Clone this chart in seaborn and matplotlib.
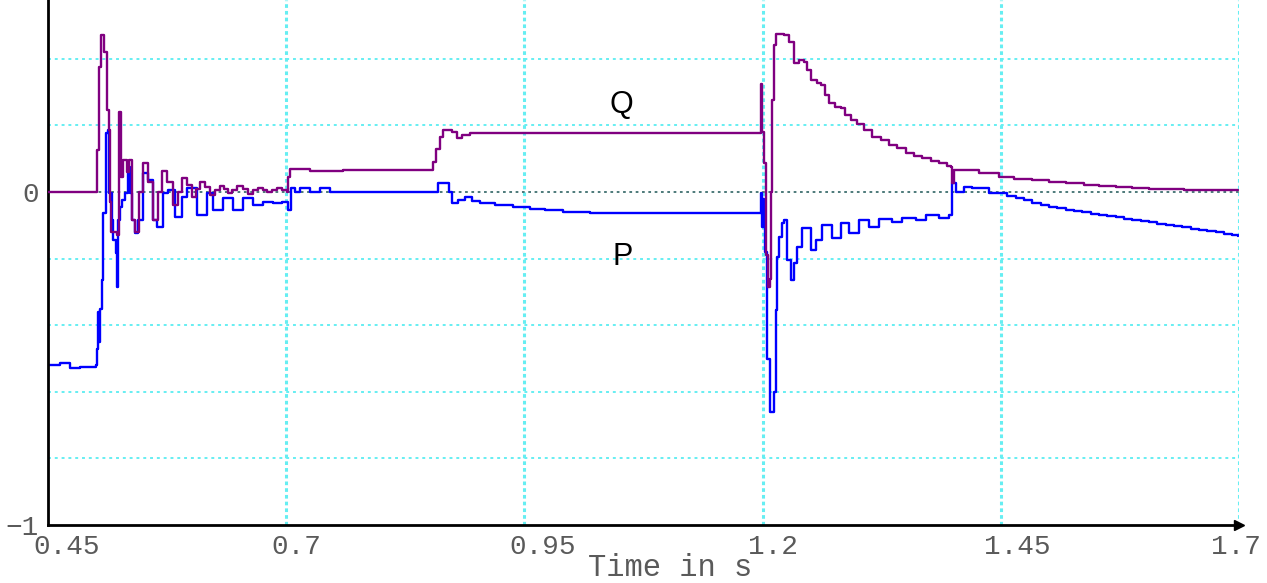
import numpy as np
import pandas as pd
import matplotlib
matplotlib.use("Agg")
import matplotlib.pyplot as plt
import seaborn as sns
from matplotlib.transforms import ScaledTranslation

# ---- data (time in s, per-unit values) ----
q_time = [0.450, 0.5003, 0.5014, 0.5035, 0.5056, 0.5087, 0.5119, 0.5140, 0.5150, 0.5161,
          0.5224, 0.5245, 0.5266, 0.5287, 0.5328, 0.5349, 0.5381, 0.5412, 0.5454, 0.5496,
          0.5549, 0.5601, 0.5654, 0.5696, 0.5748, 0.5811, 0.5863, 0.5905, 0.5958, 0.6010,
          0.6052, 0.6094, 0.6146, 0.6199, 0.6251, 0.6304, 0.6346, 0.6388, 0.6430, 0.6482,
          0.6545, 0.6597, 0.6650, 0.6702, 0.6755, 0.6797, 0.6849, 0.6902, 0.6954, 0.7006,
          0.7020, 0.7040, 0.7250, 0.7600, 0.8506, 0.8540, 0.8570, 0.8610, 0.8650, 0.8740,
          0.8790, 0.8850, 0.8930, 1.1967, 1.1988, 1.1998, 1.2019, 1.2040, 1.2061, 1.2082,
          1.2093, 1.2103, 1.2124, 1.2145, 1.2229, 1.2281, 1.2334, 1.2386, 1.2439, 1.2470,
          1.2512, 1.2575, 1.2617, 1.2659, 1.2701, 1.2764, 1.2827, 1.2869, 1.2932, 1.2995,
          1.3068, 1.3152, 1.3246, 1.3330, 1.3414, 1.3508, 1.3592, 1.3676, 1.3770, 1.3854,
          1.3938, 1.3980, 1.3991, 1.4012, 1.4138, 1.4274, 1.4484, 1.4641, 1.4830, 1.5008,
          1.5186, 1.5375, 1.5532, 1.5711, 1.5878, 1.6057, 1.6235, 1.6424, 1.6581, 1.6790,
          1.6990]
q_value = [0.000, 0.000, 0.125, 0.375, 0.471, 0.420, 0.245, 0.185, -0.030, -0.120,
           -0.130, 0.240, 0.045, 0.095, 0.060, 0.095, -0.085, -0.120, 0.000, 0.087,
           0.030, -0.084, 0.000, 0.063, 0.030, -0.040, 0.000, 0.042, 0.020, -0.015,
           0.010, 0.030, 0.015, -0.010, 0.005, 0.018, 0.010, -0.003, 0.005, 0.018,
           0.008, -0.006, 0.005, 0.012, 0.005, 0.000, 0.006, 0.012, 0.006, 0.000,
           0.045, 0.068, 0.064, 0.066, 0.066, 0.090, 0.130, 0.165, 0.186, 0.180,
           0.162, 0.172, 0.177, 0.177, 0.325, 0.180, 0.087, -0.190, -0.285, -0.260,
           0.000, 0.275, 0.440, 0.475, 0.470, 0.450, 0.387, 0.396, 0.390, 0.366,
           0.336, 0.327, 0.321, 0.291, 0.267, 0.255, 0.252, 0.231, 0.216, 0.204,
           0.186, 0.165, 0.156, 0.141, 0.132, 0.117, 0.108, 0.102, 0.093, 0.087,
           0.078, 0.075, 0.027, 0.065, 0.066, 0.057, 0.045, 0.039, 0.036, 0.030,
           0.027, 0.021, 0.018, 0.015, 0.012, 0.0105, 0.009, 0.0075, 0.006, 0.006,
           0.006]

p_time = [0.450, 0.4626, 0.4731, 0.4836, 0.4940, 0.5003, 0.5014, 0.5024, 0.5035, 0.5045,
          0.5066, 0.5077, 0.5108, 0.5129, 0.5140, 0.5171, 0.5182, 0.5213, 0.5224, 0.5234,
          0.5255, 0.5276, 0.5308, 0.5339, 0.5360, 0.5381, 0.5412, 0.5444, 0.5496, 0.5549,
          0.5601, 0.5643, 0.5706, 0.5758, 0.5832, 0.5905, 0.5958, 0.6063, 0.6167, 0.6230,
          0.6335, 0.6440, 0.6545, 0.6650, 0.6755, 0.6860, 0.6954, 0.7017, 0.7048, 0.7090,
          0.7143, 0.7248, 0.7352, 0.7457, 0.8558, 0.8590, 0.8663, 0.8705, 0.8737, 0.8800,
          0.8873, 0.8946, 0.9030, 0.9188, 0.9377, 0.9555, 0.9712, 0.9901, 1.0184, 1.1977,
          1.1988, 1.1998, 1.2009, 1.2019, 1.2030, 1.2051, 1.2082, 1.2124, 1.2145, 1.2155,
          1.2176, 1.2208, 1.2229, 1.2260, 1.2302, 1.2334, 1.2365, 1.2418, 1.2512, 1.2565,
          1.2628, 1.2732, 1.2827, 1.2911, 1.3016, 1.3120, 1.3225, 1.3361, 1.3466, 1.3613,
          1.3718, 1.3854, 1.3959, 1.3991, 1.4033, 1.4117, 1.4201, 1.4379, 1.4484, 1.4568,
          1.4662, 1.4746, 1.4830, 1.4924, 1.5008, 1.5092, 1.5186, 1.5270, 1.5354, 1.5449,
          1.5532, 1.5616, 1.5711, 1.5795, 1.5878, 1.5973, 1.6057, 1.6141, 1.6235, 1.6319,
          1.6403, 1.6497, 1.6581, 1.6665, 1.6760, 1.6844, 1.6927, 1.6990]
p_value = [-0.520, -0.515, -0.530, -0.525, -0.525, -0.520, -0.470, -0.360, -0.450, -0.350,
           -0.264, -0.063, 0.177, 0.186, -0.003, -0.084, -0.144, -0.183, -0.285, -0.084,
           -0.045, -0.024, -0.003, 0.075, -0.003, -0.084, -0.123, -0.084, 0.057, 0.036,
           -0.084, -0.105, -0.003, 0.006, -0.075, -0.015, 0.012, -0.069, -0.003, -0.054,
           -0.018, -0.054, -0.018, -0.039, -0.030, -0.033, -0.030, -0.054, 0.012, 0.000,
           0.012, 0.000, 0.012, 0.000, 0.000, 0.027, 0.027, 0.000, -0.033, -0.024,
           -0.015, -0.027, -0.033, -0.039, -0.045, -0.051, -0.054, -0.060, -0.063, -0.063,
           -0.003, -0.105, -0.020, -0.105, -0.180, -0.500, -0.660, -0.600, -0.355, -0.195,
           -0.135, -0.093, -0.084, -0.204, -0.264, -0.213, -0.165, -0.108, -0.174, -0.144,
           -0.099, -0.138, -0.093, -0.123, -0.084, -0.105, -0.081, -0.090, -0.078, -0.084,
           -0.069, -0.078, -0.069, 0.027, 0.000, 0.015, 0.012, -0.003, -0.003, -0.012,
           -0.018, -0.024, -0.033, -0.039, -0.045, -0.048, -0.054, -0.057, -0.060, -0.066,
           -0.069, -0.072, -0.075, -0.081, -0.084, -0.087, -0.090, -0.096, -0.099, -0.102,
           -0.105, -0.111, -0.114, -0.117, -0.120, -0.126, -0.129, -0.131]

x_ticks = [0.45, 0.7, 0.95, 1.2, 1.45, 1.7]
x_tick_labels = ["0.45", "0.7", "0.95", "1.2", "1.45", "1.7"]
y_ticks = [-1.0, -0.8, -0.6, -0.4, -0.2, 0.0, 0.2, 0.4]
y_tick_labels = ["\u22121", "", "", "", "", "0", "", ""]
series_labels = ["Q", "P"]
x_label = "Time in s"

# ---- style ----
sns.set_style("white")
plt.rcParams['font.family'] = ['Liberation Mono', 'DejaVu Sans Mono']

W, H = 1267, 583
fig = plt.figure(figsize=(W / 100, H / 100), dpi=100)
ax = fig.add_axes([48 / W, 58 / H, 1191 / W, 525 / H])

grid_col = "#66EEF2"
for xt in x_ticks[1:]:
    ax.axvline(xt, color=grid_col, lw=2.2, ls=(0, (1.2, 1.0)), zorder=0)
for yt in y_ticks[1:]:
    if yt != 0.0:
        ax.axhline(yt, color=grid_col, lw=1.4, ls=(0, (1.5, 2.0)), zorder=0)
ax.axhline(0.0, color="#3F7070", lw=1.3, ls=(0, (1.5, 2.0)), zorder=1)

q_df = pd.DataFrame({"t": q_time, "v": q_value})
p_df = pd.DataFrame({"t": p_time, "v": p_value})
sns.lineplot(data=q_df, x="t", y="v", ax=ax, color="#800080", lw=1.7,
             drawstyle="steps-post", estimator=None, sort=False, zorder=3)
sns.lineplot(data=p_df, x="t", y="v", ax=ax, color="#0000FF", lw=1.7,
             drawstyle="steps-post", estimator=None, sort=False, zorder=2)

ax.set_xlim(0.45, 1.7)
ax.set_ylim(-1.0, 0.5766)
ax.set_xticks(x_ticks)
ax.set_xticklabels(x_tick_labels)
ax.set_yticks(y_ticks)
ax.set_yticklabels(y_tick_labels)
ax.set_xlabel("")
ax.set_ylabel("")

for s in ["top", "right"]:
    ax.spines[s].set_visible(False)
for s in ["left", "bottom"]:
    ax.spines[s].set_color("black")
    ax.spines[s].set_linewidth(2.0)

ax.tick_params(axis="both", direction="inout", length=9, width=1.6, color="black",
               labelcolor="#5a5a5a", labelsize=20)
ax.tick_params(axis="x", pad=2)
ax.tick_params(axis="y", pad=2)
x_offsets = [-15, -15, -15, -15, -17, -28]
for lab, off in zip(ax.get_xticklabels(), x_offsets):
    lab.set_horizontalalignment("left")
    lab.set_transform(lab.get_transform() + ScaledTranslation(off / 100, 0, fig.dpi_scale_trans))

# arrow at end of time axis
ax.plot([1.0], [0.0], marker=">", ms=7, color="black", transform=ax.transAxes, clip_on=False)

# series labels
ax.text(1.052, 0.262, series_labels[0], fontsize=22, family="Liberation Sans",
        ha="center", va="center", color="black")
ax.text(1.053, -0.195, series_labels[1], fontsize=22, family="Liberation Sans",
        ha="center", va="center", color="black")

fig.text(670 / W, 0 / H, x_label, ha="center", va="bottom", color="#5a5a5a",
         fontsize=22, family=["Liberation Mono", "DejaVu Sans Mono"])

fig.savefig("out.png", dpi=100, facecolor="white")
